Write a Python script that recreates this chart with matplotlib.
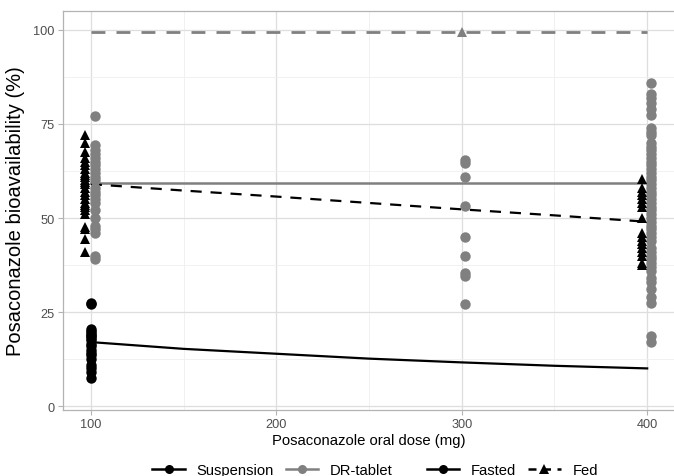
import matplotlib
matplotlib.use("Agg")
import matplotlib.pyplot as plt
from matplotlib.lines import Line2D

plt.rcParams['font.family'] = ['Liberation Sans', 'DejaVu Sans']

# ---- data ----
susp_fasted_100 = [27.5, 27.0, 20.5, 20.0, 19.5, 19.0, 18.5, 18.0, 17.5, 16.5, 16.0, 15.0,
                   14.0, 13.5, 12.5, 11.0, 10.0, 9.0, 7.5]
susp_fed_100 = [72.0, 70.0, 67.5, 66.0, 65.0, 64.0, 63.0, 62.0, 61.5, 61.0, 60.0, 59.5,
                59.0, 58.0, 57.0, 56.0, 55.0, 54.0, 53.5, 53.0, 52.0, 51.0, 47.5, 47.0,
                44.5, 41.0]
dr_fasted_100 = [77.0, 69.5, 68.0, 67.0, 66.0, 65.0, 64.0, 63.0, 62.0, 61.0, 60.0, 58.0,
                 57.0, 56.0, 55.0, 54.0, 52.0, 50.0, 48.0, 47.0, 46.0, 40.0, 39.0]
dr_fasted_300 = [65.5, 64.5, 61.0, 53.3, 45.0, 40.0, 35.5, 34.5, 27.0]
dr_fed_300 = [99.5]
dr_fasted_400 = [86.0, 83.0, 82.0, 80.5, 79.0, 77.5, 74.0, 73.0, 72.0, 70.0, 69.0, 68.0,
                 67.0, 66.0, 65.0, 64.0, 63.0, 62.0, 61.0, 60.0, 59.0, 58.0, 57.0, 56.0,
                 55.0, 54.0, 53.0, 52.0, 51.0, 50.0, 49.0, 48.0, 47.0, 46.0, 45.0, 44.0,
                 42.0, 41.0, 40.0, 39.0, 38.0, 37.0, 36.0, 34.0, 33.0, 31.0, 29.0, 27.5,
                 18.5, 17.0]
susp_fed_400 = [60.5, 58.0, 57.0, 56.0, 55.0, 54.0, 53.0, 50.0, 46.0, 45.0, 44.0, 43.0,
                42.0, 41.0, 40.0, 38.0, 37.5]

line_doses = [100, 150, 200, 250, 300, 350, 400]
susp_fasted_line = [17.0, 15.2, 13.9, 12.6, 11.6, 10.7, 10.0]
susp_fed_line = [59.0, 57.3, 55.7, 54.0, 52.3, 50.7, 49.0]
dr_fasted_line = [59.3] * 7
dr_fed_line = [99.5] * 7

x_ticks = [100, 200, 300, 400]
y_ticks = [0, 25, 50, 75, 100]

BLACK = 'black'
GREY = '#808080'

W, H = 674, 477
fig = plt.figure(figsize=(W / 100, H / 100), dpi=100)
L, R, T, B = 63, 675, 12, 411
ax = fig.add_axes([L / W, 1 - B / H, (R - L) / W, (B - T) / H])

# lines
ax.plot(line_doses, dr_fed_line, color=GREY, lw=2.0, ls=(0, (5, 4)), zorder=2)
ax.plot(line_doses, dr_fasted_line, color=GREY, lw=1.8, zorder=2)
ax.plot(line_doses, susp_fed_line, color=BLACK, lw=1.6, ls=(0, (5, 4)), zorder=2)
ax.plot(line_doses, susp_fasted_line, color=BLACK, lw=1.6, zorder=2)

ms = 7.5
def pts(x, ys, marker, color, dx):
    ax.plot([x + dx] * len(ys), ys, ls='none', marker=marker, color=color,
            markersize=ms, markeredgewidth=0, zorder=3)

pts(100, dr_fasted_100, 'o', GREY, 2.0)
pts(300, dr_fasted_300, 'o', GREY, 2.0)
pts(400, dr_fasted_400, 'o', GREY, 2.0)
pts(300, dr_fed_300, '^', GREY, 0.0)
pts(100, susp_fasted_100, 'o', BLACK, 0.0)
pts(100, susp_fed_100, '^', BLACK, -3.0)
pts(400, susp_fed_400, '^', BLACK, -3.0)

ax.set_xlim(85, 415)
ax.set_ylim(-1.06, 105.05)
ax.set_xticks(x_ticks)
ax.set_yticks(y_ticks)
ax.set_xticks([150, 250, 350], minor=True)
ax.set_yticks([12.5, 37.5, 62.5, 87.5], minor=True)
ax.grid(which='major', color='#dedede', lw=0.9)
ax.grid(which='minor', color='#efefef', lw=0.6)
ax.set_axisbelow(True)
for s in ax.spines.values():
    s.set_color('#b3b3b3')
    s.set_linewidth(0.9)
ax.tick_params(which='major', length=3.5, color='#b3b3b3', labelsize=9.2,
               labelcolor='#4d4d4d', pad=2.5)
ax.tick_params(which='minor', length=0)
ax.set_xlabel('Posaconazole oral dose (mg)', fontsize=10.7, labelpad=2)
ax.set_ylabel('Posaconazole bioavailability (%)', fontsize=14.5, labelpad=6)

h1 = [Line2D([], [], color=BLACK, lw=1.8, marker='o', markersize=6.5, markeredgewidth=0),
      Line2D([], [], color=GREY, lw=1.8, marker='o', markersize=6.5, markeredgewidth=0)]
h2 = [Line2D([], [], color=BLACK, lw=1.8, marker='o', markersize=6.5, markeredgewidth=0),
      Line2D([], [], color=BLACK, lw=1.8, ls=(0, (3.2, 2.6)), marker='^', markersize=6.5,
             markeredgewidth=0)]
leg_kw = dict(frameon=False, ncol=2, fontsize=10.6, handlelength=2.2, handletextpad=0.8,
              columnspacing=0.8, borderaxespad=0, borderpad=0)
l1 = fig.legend(h1, ['Suspension', 'DR-tablet'], loc='center',
                bbox_to_anchor=(272.5 / W, 1 - 471 / H), **leg_kw)
l2 = fig.legend(h2, ['Fasted', 'Fed'], loc='center',
                bbox_to_anchor=(512.5 / W, 1 - 471 / H), **leg_kw)

fig.savefig('out.png', dpi=100)
